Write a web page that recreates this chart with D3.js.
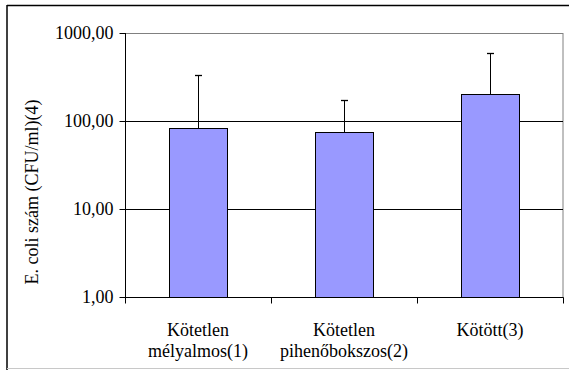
<!DOCTYPE html>
<html><head><meta charset="utf-8">
<script src="https://cdn.jsdelivr.net/npm/d3@7"></script>
<style>html,body{margin:0;padding:0;background:#fff;}svg{display:block;}</style>
</head><body>
<svg id="c" width="569" height="370"></svg>
<script>
const categories = [["Kötetlen","mélyalmos(1)"],["Kötetlen","pihenőbokszos(2)"],["Kötött(3)"]];
const means = [82.6, 74.4, 204];
const errTops = [333, 172, 597];
const yTicks = [1, 10, 100, 1000];
const yTitle = "E. coli szám (CFU/ml)(4)";

const svg = d3.select("#c");
const L = 125, R = 563, T = 33, B = 297;
const setFont = sel => sel.style("font-family",'"Liberation Serif"').style("font-size","18px").style("fill","#000");

// outer frame
svg.append("line").attr("x1",7).attr("x2",569).attr("y1",5.5).attr("y2",5.5).attr("stroke","#000").attr("stroke-width",1.5);
svg.append("line").attr("x1",7).attr("x2",7).attr("y1",5).attr("y2",370).attr("stroke","#000").attr("stroke-width",1.5);
svg.append("line").attr("x1",7).attr("x2",569).attr("y1",368.5).attr("y2",368.5).attr("stroke","#c8c8c8").attr("stroke-width",1);

const keys = categories.map((c,i)=>i);
const x = d3.scaleBand().domain(keys).range([L,R]).paddingInner(0.6).paddingOuter(0.3);
const xs = d3.scaleBand().domain(keys).range([L,R]);
const y = d3.scaleLog().domain([1,1000]).range([B,T]);

// plot border (gray)
svg.append("rect").attr("x",L+0.5).attr("y",T+0.5).attr("width",R-L-0.5).attr("height",B-T)
  .attr("fill","none").attr("stroke","#808080").attr("stroke-width",1);

// gridlines
svg.append("g").selectAll("line").data(yTicks.filter(v=>v>1 && v<1000)).join("line")
  .attr("x1",L).attr("x2",R).attr("y1",d=>Math.round(y(d))+0.5).attr("y2",d=>Math.round(y(d))+0.5)
  .attr("stroke","#000").attr("stroke-width",1);

// bars
svg.append("g").selectAll("rect").data(means).join("rect")
  .attr("x",(d,i)=>Math.round(x(i))+0.5).attr("width",Math.round(x.bandwidth()))
  .attr("y",d=>Math.round(y(d))+0.5).attr("height",d=>Math.round(B-y(d)))
  .attr("fill","#9999ff").attr("stroke","#000").attr("stroke-width",1);

// error bars
const eg = svg.append("g");
errTops.forEach((v,i)=>{
  const cx = Math.round(x(i)+x.bandwidth()/2)+0.5;
  eg.append("line").attr("x1",cx).attr("x2",cx).attr("y1",Math.round(y(v))).attr("y2",Math.round(y(means[i]))).attr("stroke","#000").attr("stroke-width",1);
  eg.append("line").attr("x1",cx-3.5).attr("x2",cx+3.5).attr("y1",Math.round(y(v))+0.5).attr("y2",Math.round(y(v))+0.5).attr("stroke","#000").attr("stroke-width",1.3);
});

// y axis
const fmt = d3.formatLocale({decimal:",",thousands:"",grouping:[3],currency:["",""]}).format(".2f");
const ya = svg.append("g").attr("transform",`translate(${L+0.5},0)`)
  .call(d3.axisLeft(y).tickValues(yTicks).tickFormat(fmt).tickSize(6).tickPadding(6));
ya.select(".domain").attr("stroke","#000").attr("d",`M0,${T}V${B+0.5}`);
ya.selectAll(".tick line").attr("stroke","#000");
ya.selectAll("text").call(setFont);

// x axis
const xa = svg.append("g").attr("transform",`translate(0,${B+0.5})`)
  .call(d3.axisBottom(xs).tickSize(0).tickFormat(""));
xa.select(".domain").attr("stroke","#000").attr("d",`M${L},0H${R+0.5}`);
const tickXs = [L].concat(keys.map(i=>xs(i)+xs.bandwidth()));
xa.selectAll("line.sep").data(tickXs).join("line").attr("class","sep")
  .attr("x1",d=>Math.round(d)+0.5).attr("x2",d=>Math.round(d)+0.5).attr("y1",0).attr("y2",6).attr("stroke","#000");

const lab = svg.append("g");
categories.forEach((lines,i)=>{
  const t = lab.append("text").attr("x",xs(i)+xs.bandwidth()/2).attr("y",336).attr("text-anchor","middle").call(setFont);
  lines.forEach((s,j)=>t.append("tspan").attr("x",xs(i)+xs.bandwidth()/2).attr("dy",j===0?0:21).text(s));
});

// y title
svg.append("text").attr("transform","translate(38,192) rotate(-90)").attr("text-anchor","middle").call(setFont).text(yTitle);
</script>
</body></html>
